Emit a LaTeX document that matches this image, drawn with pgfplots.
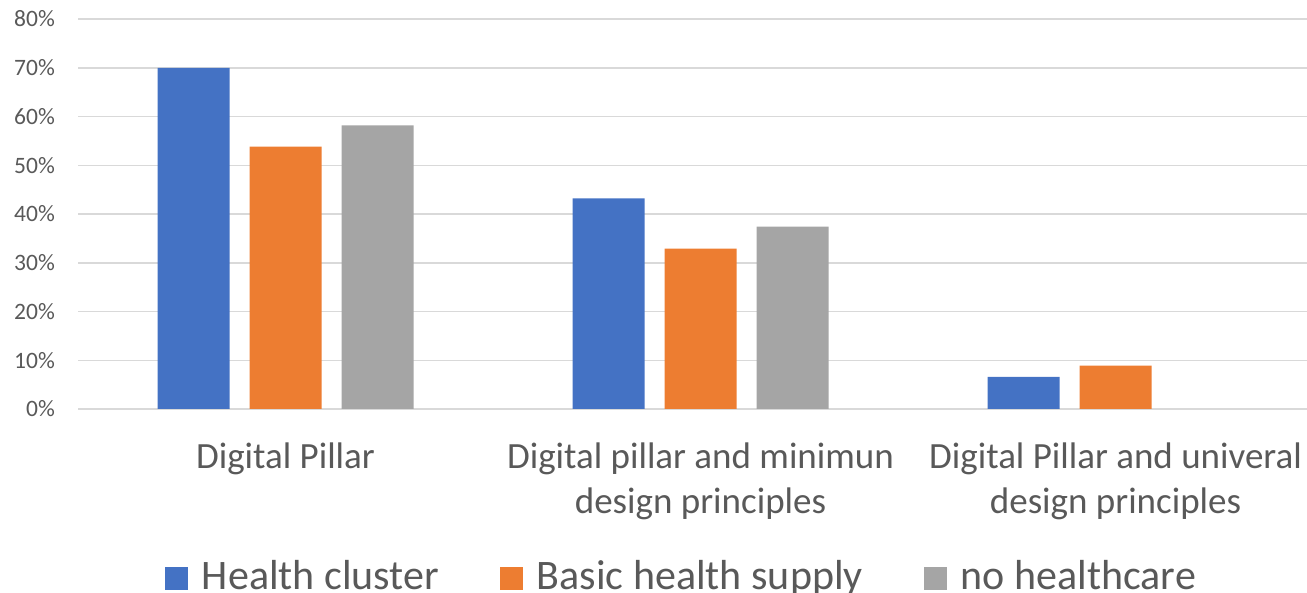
\documentclass[border=0pt]{standalone}
\usepackage{pgfplots}
\pgfplotsset{compat=1.18}
\usepackage{fontspec}
\setmainfont{Carlito}
\definecolor{hcblue}{HTML}{4472C4}
\definecolor{bhorange}{HTML}{ED7D31}
\definecolor{nhgray}{HTML}{A5A5A5}
\definecolor{txtgray}{HTML}{595959}
\definecolor{gridgray}{HTML}{D9D9D9}
\begin{document}
\begin{tikzpicture}
\begin{axis}[
  at={(78bp,184bp)}, anchor=south west,
  scale only axis, width=1229bp, height=390bp,
  ybar=20bp, bar width=72bp,
  xmin=-0.5, xmax=2.4614, ymin=0, ymax=80,
  xtick=data,
  xticklabels={Digital Pillar, {Digital pillar and minimun\\design principles}, {Digital Pillar and univeral\\design principles}},
  ytick={0,10,...,80},
  yticklabel={\pgfmathprintnumber{\tick}\%},
  /pgf/number format/assume math mode=true,
  axis line style={draw=none},
  major tick length=0pt,
  ymajorgrids,
  major grid style={draw=gridgray, line width=1.5bp},
  yticklabel style={font=\fontsize{23.5bp}{28bp}\selectfont, text=txtgray, anchor=east, inner sep=0pt, xshift=-23bp},
  xticklabel style={font=\fontsize{37bp}{45bp}\selectfont, text=txtgray, align=center, anchor=north, inner sep=0pt, yshift=-34bp},
  legend columns=3,
  legend style={draw=none, fill=none, inner sep=0pt, font=\fontsize{42bp}{48bp}\selectfont, text=txtgray,
    at={(0.4910,-0.3825)}, anchor=north,
    /tikz/every odd column/.append style={column sep=12bp},
    /tikz/every even column/.append style={column sep=59bp}},
  legend image code/.code={\fill[#1] (0bp,-14bp) rectangle (23bp,9bp);},
]
\addplot[fill=hcblue, draw=none] coordinates {(0,70.0) (1,43.2) (2,6.6)};
\addplot[fill=bhorange, draw=none] coordinates {(0,53.8) (1,32.9) (2,8.9)};
\addplot[fill=nhgray, draw=none] coordinates {(0,58.2) (1,37.4)};
\legend{Health cluster, Basic health supply, no healthcare}
\end{axis}
\pgfresetboundingbox
\path[use as bounding box] (0bp,0bp) rectangle (1307bp,593bp);
\end{tikzpicture}
\end{document}
